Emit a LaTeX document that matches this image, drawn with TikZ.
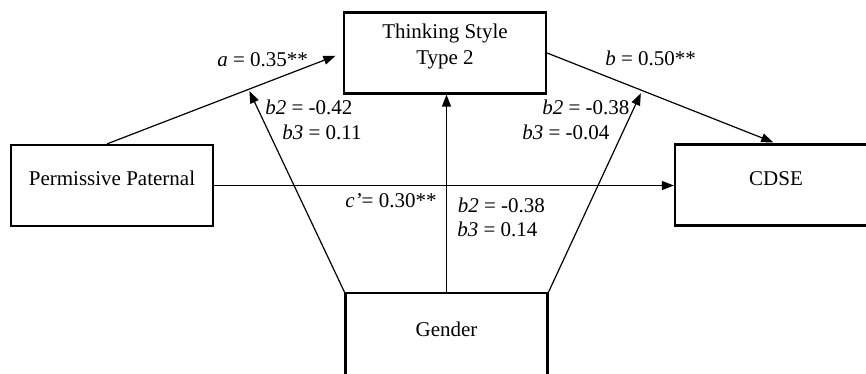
\documentclass[tikz,border=0pt]{standalone}
\usepackage{fontspec}
\setmainfont{Liberation Serif}
\usetikzlibrary{arrows.meta}

\begin{document}
\begin{tikzpicture}[
    x=0.5pt, y=-0.5pt,
    every node/.style={font=\fontsize{10.5}{13}\selectfont, align=center},
    var/.style={draw, line width=1.1pt, minimum width=101pt, minimum height=40.5pt, inner sep=0pt, text height=7.5pt, text depth=7.5pt},
    coef/.style={inner sep=0pt, anchor=west},
    arrow/.style={-{Triangle[length=6pt, width=4.5pt]}, line width=0.6pt}
]
    \useasboundingbox (0,0) rectangle (866,374);
    \clip (0,0) rectangle (866,374);

    % Variables
    \node[var, text height=20.5pt, text depth=8.5pt] (think) at (445,53) {Thinking Style\\Type 2};
    \node[var] (perm) at (112,185.5) {Permissive Paternal};
    \node[var] (cdse) at (776,185) {CDSE};
    \node[var, minimum height=43pt] (gender) at (446.5,336) {Gender};

    % Paths a, b and c'
    \draw[arrow, shorten >=4pt] ([xshift=-2.5pt]perm.north) -- (think.west) coordinate[pos=0.6] (ma);
    \draw[arrow, shorten >=1.5pt] (think.east) -- (cdse.north) coordinate[pos=0.415] (mb);
    \draw[arrow] (perm.east) -- (perm.east -| cdse.west);

    % Moderation by gender
    \draw[arrow, shorten >=1pt] (gender.north west) -- (ma);
    \draw[arrow] (gender.north) -- (gender.north |- think.south);
    \draw[arrow, shorten >=1.5pt] (gender.north east) -- (mb);

    % Coefficients
    \node[coef] (a-lab) at (217,60) {\textit{a} = 0.35**};
    \node[coef] (b-lab) at (605,58) {\textit{b} = 0.50**};
    \node[coef] (c-lab) at (345,201) {\textit{c’}= 0.30**};
    \node[coef] (a2-lab) at (265,107) {\textit{b2} = -0.42};
    \node[coef] (a3-lab) at (282,132) {\textit{b3} = 0.11};
    \node[coef] (b2-lab) at (542,107) {\textit{b2} = -0.38};
    \node[coef] (b3-lab) at (522,132) {\textit{b3} = -0.04};
    \node[coef] (c2-lab) at (457.5,205) {\textit{b2} = -0.38};
    \node[coef] (c3-lab) at (457,229) {\textit{b3} = 0.14};
\end{tikzpicture}
\end{document}
